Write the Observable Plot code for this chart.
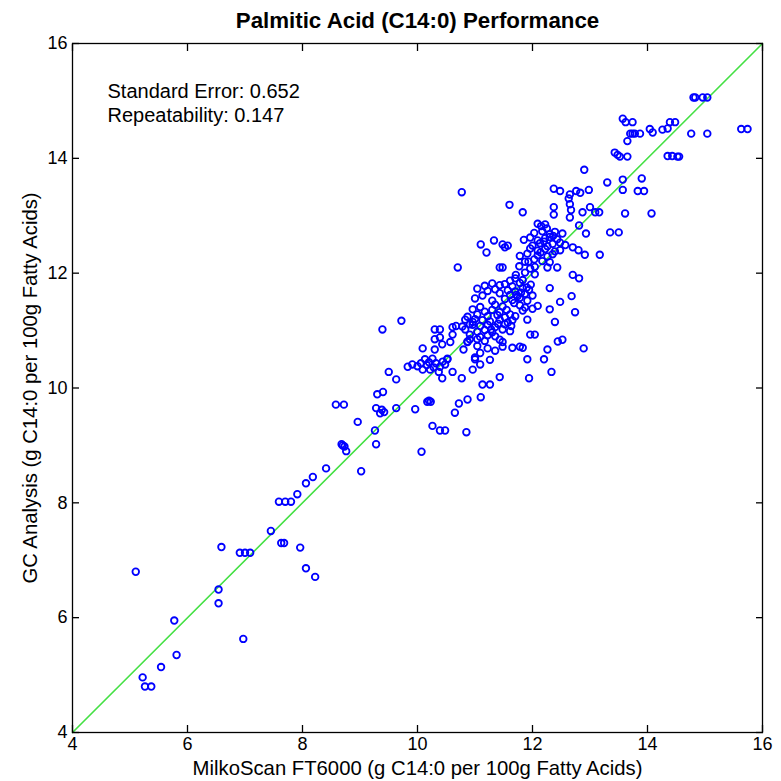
<!DOCTYPE html>
<html><head><meta charset="utf-8">
<script src="https://cdn.jsdelivr.net/npm/d3@7"></script>
<script src="https://cdn.jsdelivr.net/npm/@observablehq/plot@0.6"></script>
<style>body{margin:0;background:#fff}</style>
</head><body><div id="chart"></div>
<script>
const title = "Palmitic Acid (C14:0) Performance";
const xLabel = "MilkoScan FT6000 (g C14:0 per 100g Fatty Acids)";
const yLabel = "GC Analysis (g C14:0 per 100g Fatty Acids)";
const stats = ["Standard Error: 0.652", "Repeatability: 0.147"];
const xTicks = [4, 6, 8, 10, 12, 14, 16];
const yTicks = [4, 6, 8, 10, 12, 14, 16];
const identityLine = [4, 16];

// scattered samples: [MilkoScan, GC]
const outerPoints = [
  [5.10,6.80],[5.22,4.96],[5.26,4.80],[5.37,4.80],[5.54,5.14],[5.77,5.95],[5.81,5.35],
  [6.54,6.49],[6.54,6.25],[6.59,7.23],[6.97,5.63],[6.91,7.13],[7.00,7.13],[7.09,7.13],
  [7.45,7.51],[7.59,8.02],[7.70,8.02],[7.80,8.02],[7.63,7.30],[7.68,7.30],[7.91,8.15],
  [7.96,7.22],[8.06,8.34],[8.06,6.86],[8.18,8.45],[8.22,6.71],[8.41,8.60],[8.58,9.71],
  [8.72,9.71],[8.68,9.02],[8.73,8.98],[8.76,8.90],[8.70,9.00],[8.96,9.41],[9.02,8.55],
  [9.26,9.26],[9.28,9.02],[9.28,9.65],[9.30,9.89],[9.35,9.56],[9.42,9.58],[9.38,9.62],
  [9.39,11.02],[9.40,9.93],[9.50,10.28],[9.63,10.15],[9.63,9.65],[9.72,11.17],[9.83,10.37],
  [9.96,9.63],[9.91,10.41],[10.07,8.89],[10.09,10.69],[10.17,9.76],[10.23,9.76],[10.20,9.78],
  [10.26,9.34],[10.39,9.26],[10.48,9.26],[10.30,11.02],[10.39,11.02],[10.30,10.85],[10.39,10.88],
  [10.43,10.76],[10.57,10.80],[10.61,10.93],[10.61,11.06],[10.67,11.08],[10.43,10.17],[10.52,10.50],
  [10.61,10.28],[10.65,9.57],[10.70,12.10],[10.72,9.73],[10.77,13.41],[10.77,10.17],[10.85,9.23],
  [10.87,9.80],[10.80,10.67],[10.87,10.80],[10.91,10.85],[10.96,11.10],[11.00,11.20],[10.96,10.32],
  [11.00,10.50],[11.09,10.41],[11.10,9.84],[11.13,10.06],[11.26,10.06],[11.10,12.50],[11.20,12.36],
  [11.33,12.57],[11.48,12.50],[11.52,12.45],[11.57,12.48],[11.43,12.10],[11.48,12.10],[11.60,13.19],
  [11.83,13.06],[11.43,10.19],[11.65,10.70],[11.78,10.72],[11.83,10.70],[11.91,10.50],[11.94,10.17],
  [11.96,10.93],[12.04,10.93],[11.91,11.19],[12.20,10.50],[12.26,10.67],[12.33,10.28],[12.44,10.81],
  [12.52,10.84],[12.39,11.15],[12.30,11.37],[12.48,11.50],[12.30,11.74],[12.68,11.60],[12.74,11.32],
  [12.89,10.69],[12.81,11.91],[12.70,11.97],[12.43,12.10],[12.26,12.10],[12.91,12.32],[13.17,12.32],
  [12.80,12.40],[12.70,12.45],[12.93,12.69],[12.81,12.83],[12.87,13.06],[13.00,13.15],[13.09,13.06],
  [13.16,13.06],[12.90,13.80],[12.98,13.45],[12.76,13.43],[12.83,13.40],[12.65,13.37],[12.63,13.30],
  [12.37,13.47],[12.48,13.43],[12.37,13.15],[12.37,13.02],[12.65,13.20],[12.67,13.10],[12.65,12.97],
  [13.30,13.58],[13.35,12.71],[13.50,12.71],[13.57,13.63],[13.57,13.45],[13.61,13.04],[13.43,14.10],
  [13.48,14.06],[13.52,14.03],[13.65,14.03],[13.57,14.69],[13.62,14.63],[13.74,14.63],[13.65,14.30],
  [13.70,14.43],[13.74,14.43],[13.78,14.43],[13.87,14.43],[13.90,13.65],[13.83,13.43],[13.94,13.43],
  [14.04,14.51],[14.09,14.45],[14.07,13.04],[14.26,14.50],[14.35,14.52],[14.39,14.63],[14.48,14.63],
  [14.35,14.04],[14.43,14.04],[14.52,14.03],[14.55,14.03],[14.76,14.43],[14.80,15.06],[14.83,15.06],
  [14.96,15.06],[15.04,15.06],[15.04,14.43],[15.63,14.51],[15.74,14.51]
];

// cluster near (10-10.5, 10.3-10.7): [MilkoScan, GC]
const clusterPoints = [
  [10.00,10.38],[10.06,10.43],[10.13,10.50],[10.20,10.45],[10.26,10.51],[10.32,10.43],[10.39,10.37],
  [10.09,10.32],[10.22,10.32],[10.37,10.28],[10.48,10.41],[10.52,10.51],[10.30,10.67],
  [10.16,10.40],[10.28,10.36],[10.44,10.46]
];

// dense core along the diagonal: [MilkoScan, GC]
const corePoints = [
  [12.09,12.86],[12.15,12.82],[12.22,12.85],
  [12.03,12.70],[12.17,12.73],[12.30,12.68],[12.39,12.72],[12.52,12.69],
  [11.85,12.58],[11.96,12.62],[12.09,12.57],[12.22,12.61],[12.30,12.63],[12.43,12.59],
  [12.00,12.48],[12.13,12.52],[12.26,12.47],[12.35,12.51],[12.48,12.53],[12.57,12.49],
  [11.96,12.43],[12.09,12.39],[12.22,12.42],[12.39,12.38],[12.48,12.40],
  [11.78,12.30],[11.91,12.34],[12.09,12.31],[12.26,12.29],[12.35,12.33],
  [11.87,12.20],[12.03,12.24],[12.17,12.21],[12.30,12.19],
  [11.77,12.12],[11.96,12.08],[12.04,12.11],
  [11.71,11.97],[11.87,12.01],[12.04,11.98],
  [11.61,11.87],[11.70,11.91],[11.83,11.88],
  [11.17,11.78],[11.30,11.82],[11.43,11.79],[11.52,11.81],[11.65,11.77],[11.78,11.83],[11.97,11.80],
  [11.04,11.73],[11.22,11.69],[11.35,11.72],[11.57,11.70],[11.70,11.68],[11.83,11.74],[11.94,11.71],
  [11.13,11.61],[11.43,11.65],[11.61,11.62],[11.74,11.60],[11.87,11.64],[12.00,11.61],
  [11.00,11.56],[11.30,11.52],[11.52,11.55],[11.65,11.53],[11.78,11.57],[11.91,11.52],
  [11.09,11.41],[11.35,11.45],[11.48,11.42],[11.78,11.44],[11.87,11.40],[12.09,11.43],
  [10.96,11.37],[11.17,11.33],[11.30,11.36],[11.43,11.32],[11.83,11.35],[12.00,11.38],
  [10.87,11.24],[11.04,11.28],[11.22,11.25],[11.39,11.27],[11.52,11.23],[11.61,11.28],[11.70,11.25],
  [10.83,11.19],[10.96,11.15],[11.13,11.18],[11.26,11.16],[11.43,11.19],[11.57,11.14],[11.65,11.18],
  [10.78,11.07],[10.91,11.11],[11.09,11.08],[11.22,11.10],[11.35,11.06],[11.52,11.11],[11.63,11.08],
  [10.83,11.02],[11.04,10.98],[11.17,11.01],[11.30,10.97],[11.48,11.02],[11.61,10.99],
  [10.91,10.93],[11.09,10.89],[11.22,10.92],[11.35,10.90],
  [10.87,10.81],[11.04,10.85],[11.17,10.82],[11.43,10.84],[11.48,10.80],
  [11.04,10.73],[11.22,10.69],[11.48,10.72],
  [11.09,10.61],[11.35,10.65],
  [11.00,10.53],[11.26,10.49],
  [11.72,11.62],[11.80,11.66],[11.68,11.48],[11.90,11.75],[12.14,12.36],[12.20,12.55],
  [11.40,11.12],[11.28,11.02],[11.55,11.36],[12.36,12.65],[12.25,12.78],[11.93,12.20]
];

const points = [...outerPoints, ...clusterPoints, ...corePoints].map(([x, y]) => ({x, y}));

const font = "'Liberation Sans', Arial, Helvetica, sans-serif";
const chart = Plot.plot({
  width: 781, height: 781,
  marginLeft: 72, marginRight: 19, marginTop: 43, marginBottom: 49,
  x: {domain: [4, 16]},
  y: {domain: [4, 16]},
  style: {fontFamily: font, fontSize: "18px", color: "black", background: "white", overflow: "visible"},
  marks: [
    Plot.line(identityLine.map(v => ({x: v, y: v})), {x: "x", y: "y", stroke: "#44e044", strokeWidth: 1.6}),
    Plot.dot(points, {x: "x", y: "y", r: 3.3, stroke: "#0000ff", strokeWidth: 1.8}),
    Plot.frame({stroke: "black", strokeWidth: 1.3}),
    Plot.axisX(xTicks, {anchor: "bottom", tickSize: -7, tickPadding: 12, tickFormat: d => String(d), label: null, fontSize: 18, strokeWidth: 1.3}),
    Plot.axisX(xTicks, {anchor: "top", tickSize: -7, tickFormat: () => "", label: null, strokeWidth: 1.3}),
    Plot.axisY(yTicks, {anchor: "left", tickSize: -7, tickPadding: 12, tickFormat: d => String(d), label: null, fontSize: 18, strokeWidth: 1.3}),
    Plot.axisY(yTicks, {anchor: "right", tickSize: -7, tickFormat: () => "", label: null, strokeWidth: 1.3}),
    Plot.text([stats.join("\n")], {frameAnchor: "top-left", dx: 35, dy: 37, lineAnchor: "top", textAnchor: "start", lineHeight: 1.2, fontSize: 20}),
    Plot.text([title], {frameAnchor: "top", dy: -31, fontWeight: "bold", fontSize: 22.3}),
    Plot.text([xLabel], {frameAnchor: "bottom", dy: 42, textAnchor: "middle", fontSize: 20.3}),
    Plot.text([yLabel], {frameAnchor: "left", dx: -42, textAnchor: "middle", rotate: -90, fontSize: 20.3})
  ]
});
document.getElementById("chart").appendChild(chart);
</script>
</body></html>
